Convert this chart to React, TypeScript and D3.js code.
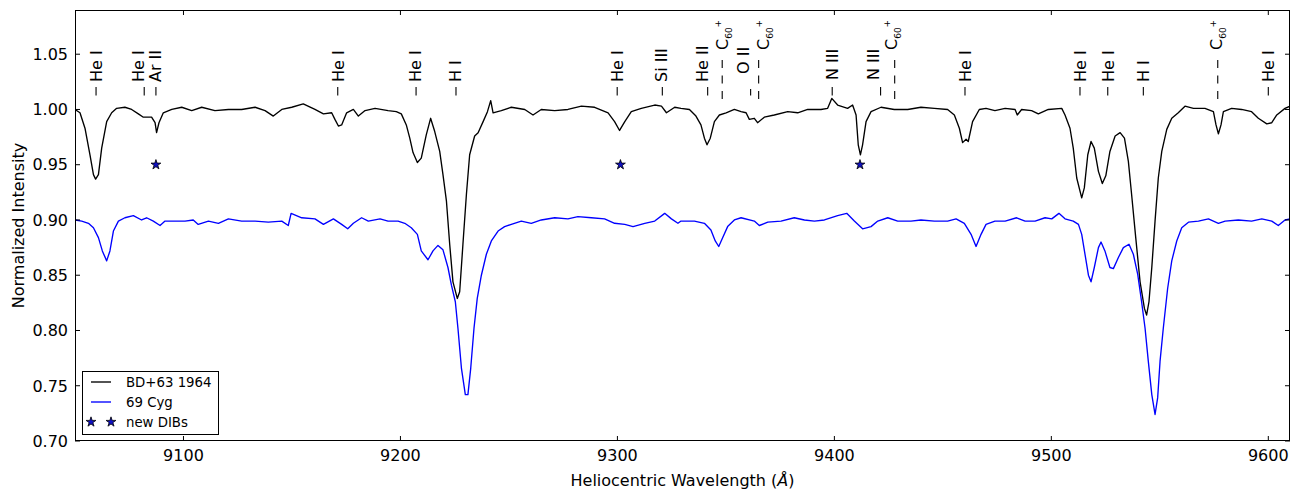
import * as d3 from 'd3';

// BD+63 1964, normalized flux (wavelength in Å, intensity)
const bd63: [number, number][] = [
  [9050.0, 1.000], [9052.3, 0.997], [9054.6, 0.983], [9056.9, 0.959], [9058.5, 0.941], [9059.5, 0.937],
  [9060.8, 0.941], [9062.3, 0.965], [9064.6, 0.989], [9066.9, 0.997], [9069.2, 1.001], [9073.0, 1.002],
  [9076.1, 1.000], [9079.2, 0.996], [9081.5, 0.993], [9085.3, 0.993], [9086.9, 0.988], [9087.6, 0.979],
  [9088.7, 0.988], [9090.7, 0.997], [9094.6, 1.000], [9099.2, 1.002], [9103.8, 0.999], [9108.4, 1.002],
  [9114.5, 0.999], [9120.7, 1.000], [9126.8, 1.000], [9133.0, 1.002], [9137.6, 0.999], [9141.4, 0.994],
  [9145.3, 1.000], [9149.9, 1.002], [9155.2, 1.005], [9160.6, 1.000], [9164.5, 0.996], [9168.3, 0.997],
  [9169.8, 0.991], [9171.4, 0.985], [9172.9, 0.986], [9175.2, 0.997], [9178.3, 1.000], [9180.6, 0.994],
  [9183.7, 0.999], [9188.3, 1.001], [9194.3, 0.999], [9198.1, 0.998], [9200.4, 0.996], [9202.7, 0.986],
  [9204.3, 0.974], [9205.8, 0.961], [9207.8, 0.952], [9209.6, 0.956], [9211.9, 0.977], [9213.9, 0.992],
  [9215.8, 0.980], [9218.1, 0.962], [9219.6, 0.941], [9221.2, 0.917], [9222.7, 0.878], [9224.2, 0.844],
  [9226.2, 0.829], [9227.3, 0.835], [9228.8, 0.878], [9230.4, 0.923], [9231.9, 0.959], [9234.2, 0.976],
  [9235.8, 0.979], [9238.1, 0.989], [9240.1, 0.998], [9241.6, 1.008], [9242.7, 0.997], [9246.5, 0.999],
  [9251.1, 1.002], [9257.3, 1.000], [9261.1, 0.995], [9264.9, 1.000], [9271.1, 0.999], [9277.2, 1.000],
  [9283.4, 1.003], [9289.5, 1.002], [9295.7, 0.997], [9298.7, 0.989], [9301.0, 0.981], [9303.4, 0.989],
  [9306.4, 0.998], [9311.0, 1.001], [9317.2, 1.004], [9320.3, 1.003], [9322.6, 0.997], [9326.4, 1.002],
  [9329.3, 1.001], [9333.2, 1.000], [9336.2, 0.994], [9338.5, 0.986], [9340.1, 0.974], [9341.3, 0.968],
  [9342.8, 0.974], [9344.7, 0.989], [9347.0, 0.995], [9350.1, 0.997], [9353.9, 1.000], [9357.0, 0.998],
  [9359.3, 0.997], [9360.8, 0.991], [9363.1, 0.992], [9364.6, 0.988], [9367.7, 0.993], [9372.3, 0.995],
  [9378.5, 0.998], [9383.1, 0.997], [9387.7, 1.000], [9393.8, 1.000], [9396.9, 1.001], [9398.8, 1.010],
  [9401.5, 1.004], [9406.1, 1.001], [9408.4, 1.004], [9410.0, 0.995], [9411.0, 0.968], [9412.0, 0.959],
  [9413.0, 0.968], [9414.6, 0.989], [9416.9, 0.998], [9421.5, 1.002], [9427.6, 1.000], [9433.8, 1.000],
  [9439.9, 1.002], [9446.1, 1.001], [9452.2, 1.000], [9455.3, 0.995], [9457.6, 0.983], [9459.1, 0.970],
  [9460.7, 0.973], [9461.7, 0.971], [9463.7, 0.989], [9466.8, 1.000], [9469.9, 1.001], [9474.0, 0.999],
  [9478.7, 1.001], [9483.3, 1.000], [9484.3, 0.995], [9486.3, 1.000], [9490.9, 0.999], [9494.0, 0.996],
  [9498.6, 1.000], [9504.8, 1.001], [9506.3, 0.995], [9508.6, 0.983], [9510.1, 0.965], [9511.7, 0.938],
  [9514.0, 0.920], [9515.2, 0.929], [9516.8, 0.959], [9518.3, 0.971], [9519.8, 0.965], [9521.7, 0.944],
  [9523.5, 0.933], [9525.1, 0.940], [9527.0, 0.962], [9529.4, 0.976], [9531.7, 0.979], [9533.7, 0.974],
  [9535.5, 0.953], [9537.0, 0.923], [9538.9, 0.884], [9540.9, 0.844], [9542.9, 0.820], [9543.9, 0.814],
  [9545.0, 0.826], [9546.3, 0.857], [9547.8, 0.899], [9549.3, 0.938], [9550.9, 0.962], [9553.2, 0.982],
  [9555.5, 0.992], [9558.5, 0.997], [9561.6, 1.003], [9565.5, 1.001], [9570.8, 1.001], [9574.7, 0.998],
  [9575.9, 0.986], [9577.0, 0.978], [9578.2, 0.986], [9579.3, 0.998], [9583.1, 1.001], [9587.7, 1.000],
  [9592.3, 0.998], [9595.4, 0.992], [9599.3, 0.987], [9601.6, 0.988], [9603.9, 0.995], [9607.7, 1.001],
  [9610.0, 1.003],
];

// 69 Cyg (offset by -0.1 in the original figure)
const cyg69: [number, number][] = [
  [9050.0, 0.900], [9053.1, 0.899], [9056.2, 0.897], [9058.5, 0.893], [9060.8, 0.884], [9062.6, 0.872],
  [9064.6, 0.863], [9066.1, 0.872], [9067.7, 0.890], [9070.0, 0.899], [9073.0, 0.902], [9076.9, 0.904],
  [9080.7, 0.900], [9083.0, 0.902], [9086.1, 0.899], [9089.2, 0.895], [9091.5, 0.899], [9096.1, 0.899],
  [9100.7, 0.899], [9104.5, 0.900], [9106.8, 0.896], [9111.5, 0.899], [9116.1, 0.897], [9120.7, 0.901],
  [9126.8, 0.899], [9133.0, 0.899], [9139.1, 0.898], [9145.3, 0.899], [9148.3, 0.895], [9149.6, 0.906],
  [9154.5, 0.902], [9160.6, 0.901], [9164.5, 0.896], [9169.1, 0.901], [9172.9, 0.896], [9175.7, 0.892],
  [9178.3, 0.897], [9182.1, 0.902], [9185.2, 0.899], [9190.6, 0.901], [9194.3, 0.899], [9198.9, 0.899],
  [9202.0, 0.897], [9205.0, 0.893], [9207.8, 0.887], [9209.6, 0.872], [9212.7, 0.864], [9215.0, 0.872],
  [9217.3, 0.877], [9219.6, 0.873], [9221.9, 0.857], [9223.5, 0.841], [9225.3, 0.826], [9226.5, 0.802],
  [9228.1, 0.766], [9229.9, 0.742], [9231.1, 0.742], [9232.4, 0.766], [9233.9, 0.802], [9235.4, 0.829],
  [9237.3, 0.850], [9239.6, 0.869], [9241.9, 0.881], [9245.0, 0.890], [9248.0, 0.894], [9251.1, 0.896],
  [9255.7, 0.899], [9260.3, 0.897], [9264.9, 0.900], [9271.1, 0.902], [9277.2, 0.901], [9281.8, 0.903],
  [9288.0, 0.902], [9294.1, 0.901], [9298.7, 0.897], [9303.4, 0.896], [9307.2, 0.894], [9312.6, 0.897],
  [9317.2, 0.899], [9321.8, 0.906], [9324.9, 0.901], [9327.9, 0.897], [9329.3, 0.899], [9335.5, 0.899],
  [9340.1, 0.897], [9343.1, 0.891], [9345.1, 0.881], [9346.7, 0.876], [9348.5, 0.884], [9350.8, 0.894],
  [9353.9, 0.900], [9357.0, 0.902], [9363.1, 0.899], [9365.4, 0.895], [9369.3, 0.898], [9375.4, 0.899],
  [9381.5, 0.902], [9386.2, 0.900], [9390.8, 0.899], [9395.4, 0.900], [9401.5, 0.904], [9405.7, 0.906],
  [9409.2, 0.899], [9413.0, 0.892], [9416.9, 0.894], [9420.0, 0.899], [9424.6, 0.902], [9429.2, 0.899],
  [9435.3, 0.899], [9439.9, 0.900], [9446.1, 0.899], [9452.2, 0.899], [9456.1, 0.901], [9459.9, 0.897],
  [9463.0, 0.887], [9465.3, 0.876], [9467.6, 0.887], [9469.9, 0.896], [9474.0, 0.899], [9478.7, 0.899],
  [9484.0, 0.902], [9487.9, 0.899], [9492.5, 0.899], [9497.1, 0.902], [9500.2, 0.901], [9503.5, 0.906],
  [9506.3, 0.901], [9510.1, 0.899], [9512.5, 0.896], [9514.0, 0.887], [9515.5, 0.869], [9517.1, 0.850],
  [9518.3, 0.844], [9519.8, 0.857], [9521.7, 0.875], [9522.9, 0.880], [9524.7, 0.872], [9527.0, 0.857],
  [9528.6, 0.856], [9530.9, 0.866], [9533.2, 0.875], [9535.8, 0.878], [9537.8, 0.869], [9539.8, 0.851],
  [9541.6, 0.826], [9543.2, 0.802], [9544.7, 0.772], [9546.3, 0.742], [9547.8, 0.724], [9549.0, 0.739],
  [9550.1, 0.772], [9551.6, 0.802], [9553.6, 0.838], [9555.5, 0.863], [9557.8, 0.881], [9560.1, 0.893],
  [9563.2, 0.898], [9567.8, 0.899], [9572.4, 0.901], [9577.0, 0.897], [9580.1, 0.899], [9586.2, 0.900],
  [9592.3, 0.899], [9597.0, 0.901], [9601.6, 0.899], [9604.6, 0.895], [9607.7, 0.900], [9610.0, 0.901],
];

const dibWavelengths = [9087.3, 9301.4, 9411.8];
const dibLevel = 0.95;

const xTicks = [9100, 9200, 9300, 9400, 9500, 9600];
const yTicks = [0.7, 0.75, 0.8, 0.85, 0.9, 0.95, 1.0, 1.05];

// wl: line position, at: where the label text sits
const lineIds = [
  { wl: 9059.7, at: 9059.7, ion: 'He I' },
  { wl: 9081.9, at: 9079.2, ion: 'He I' },
  { wl: 9087.3, at: 9086.9, ion: 'Ar II' },
  { wl: 9171.1, at: 9171.1, ion: 'He I' },
  { wl: 9207.2, at: 9206.7, ion: 'He I' },
  { wl: 9225.6, at: 9225.1, ion: 'H I' },
  { wl: 9299.9, at: 9299.7, ion: 'He I' },
  { wl: 9320.7, at: 9320.4, ion: 'Si III' },
  { wl: 9341.6, at: 9338.9, ion: 'He II' },
  { wl: 9348.3, at: 9348.2, ion: 'C60+' },
  { wl: 9361.4, at: 9358.0, ion: 'O II' },
  { wl: 9365.1, at: 9367.2, ion: 'C60+' },
  { wl: 9399.0, at: 9399.0, ion: 'N III' },
  { wl: 9421.3, at: 9417.9, ion: 'N III' },
  { wl: 9427.8, at: 9426.0, ion: 'C60+' },
  { wl: 9460.2, at: 9460.2, ion: 'He I' },
  { wl: 9513.2, at: 9513.2, ion: 'He I' },
  { wl: 9526.0, at: 9526.0, ion: 'He I' },
  { wl: 9542.4, at: 9542.4, ion: 'H I' },
  { wl: 9576.7, at: 9576.2, ion: 'C60+' },
  { wl: 9600.0, at: 9600.0, ion: 'He I' },
];

const FONT = "'DejaVu Sans', 'Liberation Sans', sans-serif";
const BLUE = '#0000ff';

export default function App() {
  const left = 75, right = 1290, top = 10, bottom = 441;
  const x = d3.scaleLinear().domain([9050, 9610]).range([left, right]);
  const y = d3.scaleLinear().domain([0.7, 1.09]).range([bottom, top]);
  const line = d3.line<[number, number]>().x(d => x(d[0])).y(d => y(d[1]));
  const star = d3.symbol().type(d3.symbolStar).size(30)() || '';
  const tickLen = 5;

  return (
    <svg width={1291} height={490} fontFamily={FONT}
      style={{ position: 'absolute', left: 0, top: 0, background: '#fff' }}>
      <rect width={1291} height={490} fill="#fff" />
      <defs>
        <clipPath id="plotArea">
          <rect x={left} y={top} width={right - left} height={bottom - top} />
        </clipPath>
      </defs>

      {/* spectra */}
      <g clipPath="url(#plotArea)" fill="none" strokeLinejoin="round">
        <path d={line(bd63) || ''} stroke="#000" strokeWidth={1.35} />
        <path d={line(cyg69) || ''} stroke={BLUE} strokeWidth={1.35} />
      </g>

      {/* new DIBs */}
      {dibWavelengths.map(w => (
        <path key={w} d={star} transform={`translate(${x(w)},${y(dibLevel)})`}
          fill="#1010c0" stroke="#000" strokeWidth={0.8} />
      ))}

      {/* line identifications */}
      {lineIds.map((l, i) => {
        const tx = x(l.wl);
        const lx = x(l.at);
        const isC60 = l.ion === 'C60+';
        const base = isC60 ? 50 : l.ion === 'O II' ? 74 : l.ion === 'N III' ? 80 : 82;
        return (
          <g key={i}>
            {isC60 ? (
              <line x1={tx} x2={tx} y1={60} y2={99} stroke="#000" strokeWidth={1.1} strokeDasharray="8 7.5" />
            ) : (
              <line x1={tx} x2={tx} y1={l.ion === 'O II' ? 89 : 87} y2={95.5} stroke="#000" strokeWidth={1.1} />
            )}
            {isC60 ? (
              <text transform={`translate(${lx},${base}) rotate(-90)`} fontSize={16} fill="#000">
                <tspan dy="0.36em">C</tspan>
                <tspan fontSize={9} dy={4}>60</tspan>
                <tspan fontSize={9} dy={-10.5}>+</tspan>
              </text>
            ) : (
              <text transform={`translate(${lx},${base}) rotate(-90)`} dy="0.36em" fontSize={16} fill="#000">
                {l.ion}
              </text>
            )}
          </g>
        );
      })}

      {/* axes frame */}
      <rect x={left + 0.5} y={top + 0.5} width={right - left - 1} height={bottom - top - 1}
        fill="none" stroke="#000" strokeWidth={1} />

      {/* x ticks */}
      {xTicks.map(t => (
        <g key={t}>
          <line x1={x(t)} x2={x(t)} y1={bottom} y2={bottom - tickLen} stroke="#000" />
          <line x1={x(t)} x2={x(t)} y1={top} y2={top + tickLen} stroke="#000" />
          <text x={x(t)} y={461} textAnchor="middle" fontSize={16} fill="#000">{t}</text>
        </g>
      ))}

      {/* y ticks */}
      {yTicks.map(t => (
        <g key={t}>
          <line x1={left} x2={left + tickLen} y1={y(t)} y2={y(t)} stroke="#000" />
          <line x1={right} x2={right - tickLen} y1={y(t)} y2={y(t)} stroke="#000" />
          <text x={68} y={y(t)} dy="0.36em" textAnchor="end" fontSize={16} fill="#000">
            {d3.format('.2f')(t)}
          </text>
        </g>
      ))}

      {/* axis labels */}
      <text x={(left + right) / 2} y={486} textAnchor="middle" fontSize={16} fill="#000">
        Heliocentric Wavelength (<tspan fontStyle="italic">Å</tspan>)
      </text>
      <text transform={`translate(18,${(top + bottom) / 2}) rotate(-90)`} dy="0.36em"
        textAnchor="middle" fontSize={16} fill="#000">
        Normalized Intensity
      </text>

      {/* legend */}
      <g>
        <rect x={82.5} y={371.5} width={136} height={63} fill="#fff" stroke="#000" strokeWidth={1} />
        <line x1={91} x2={111} y1={382} y2={382} stroke="#000" strokeWidth={1.35} />
        <text x={126} y={382} dy="0.36em" fontSize={13.3} fill="#000">BD+63 1964</text>
        <line x1={91} x2={111} y1={402} y2={402} stroke={BLUE} strokeWidth={1.35} />
        <text x={126} y={402} dy="0.36em" fontSize={13.3} fill="#000">69 Cyg</text>
        {[91, 111].map(px => (
          <path key={px} d={star} transform={`translate(${px},422)`} fill="#1010c0" stroke="#000" strokeWidth={0.8} />
        ))}
        <text x={126} y={422} dy="0.36em" fontSize={13.3} fill="#000">new DIBs</text>
      </g>
    </svg>
  );
}
